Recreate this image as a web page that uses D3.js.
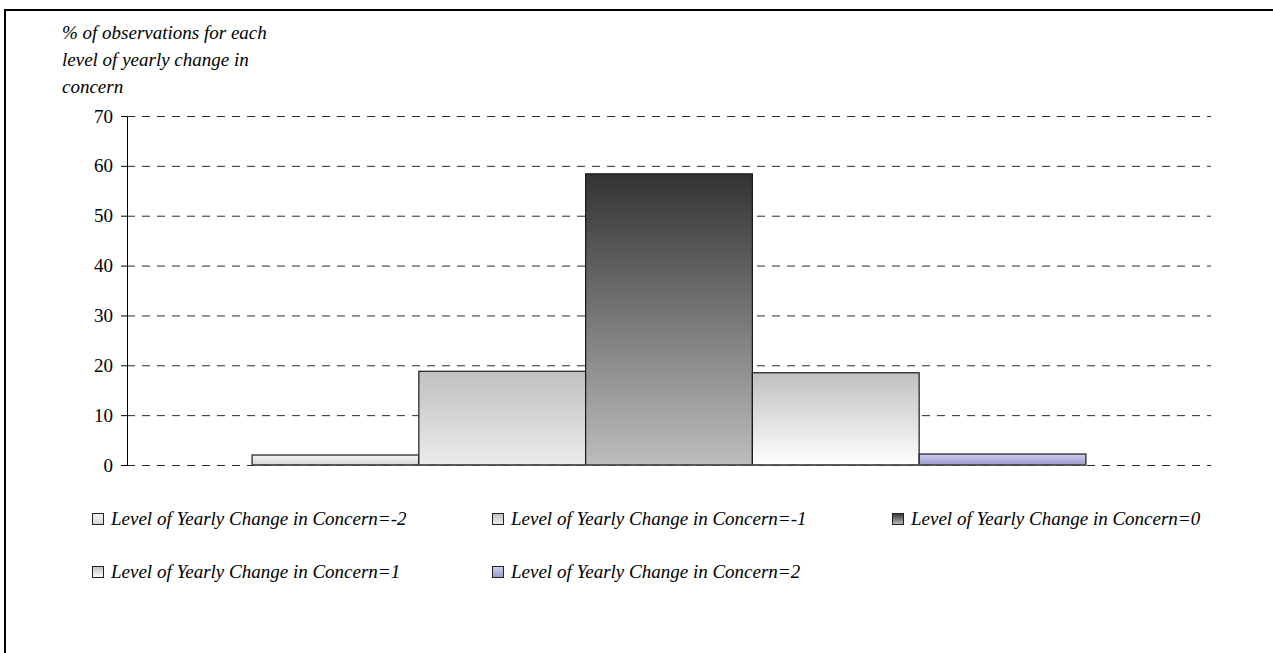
<html>
<head>
  <script src="https://d3js.org/d3.v7.min.js"></script>
  <style>
    body { margin: 0; background: #fff; }
    text { font-family: "Liberation Serif", "Times New Roman", serif; }
    .gridlines line { stroke: #2a2a2a; stroke-dasharray: 8, 7; }
    .gridlines .domain { stroke: none; }
  </style>
</head>
<body>
  <svg id="chart" width="1273" height="653"></svg>
  <script>
    // values
    const levels = ["-2", "-1", "0", "1", "2"];
    const percentages = [2.0, 18.8, 58.4, 18.5, 2.2];
    const yTicks = [0, 10, 20, 30, 40, 50, 60, 70];
    const titleLines = ["% of observations for each", "level of yearly change in", "concern"];
    const legendPrefix = "Level of Yearly Change in Concern=";

    // top / bottom colours of each bar's vertical gradient
    const gradTops = ["#f4f4f4", "#c0c0c0", "#333333", "#c0c0c0", "#cfcff2"];
    const gradBottoms = ["#d6d6d6", "#ebebeb", "#bdbdbd", "#ffffff", "#9a9acb"];

    let svg = d3.select("svg#chart");

    // outer frame, cut by the window on the right and bottom
    svg.append("rect")
      .attr("x", 5).attr("y", 10)
      .attr("width", 1400).attr("height", 800)
      .attr("fill", "none")
      .attr("stroke", "#000")
      .attr("stroke-width", 2);

    let defs = svg.append("defs");
    levels.forEach((d, i) => {
      let g = defs.append("linearGradient")
        .attr("id", "grad" + i)
        .attr("x1", 0).attr("y1", 0).attr("x2", 0).attr("y2", 1);
      g.append("stop").attr("offset", "0%").attr("stop-color", gradTops[i]);
      g.append("stop").attr("offset", "100%").attr("stop-color", gradBottoms[i]);
    });

    let plotLeft = 127, plotRight = 1211, plotTop = 116, plotBottom = 465;

    const yScale = d3.scaleLinear().domain([0, 70]).range([plotBottom, plotTop]);
    const xScale = d3.scaleBand().domain(levels).range([plotLeft, plotRight])
      .paddingInner(0).paddingOuter(0.75);

    // dashed gridlines
    let grid = d3.axisLeft(yScale).tickValues(yTicks)
      .tickSize(-(plotRight - plotLeft)).tickFormat("");
    svg.append("g")
      .attr("class", "gridlines")
      .attr("transform", `translate(${plotLeft},0)`)
      .call(grid);

    // bars
    svg.selectAll("rect.bar").data(levels)
      .join("rect")
      .attr("class", "bar")
      .attr("x", d => xScale(d))
      .attr("y", (d, i) => yScale(percentages[i]))
      .attr("width", xScale.bandwidth())
      .attr("height", (d, i) => plotBottom - yScale(percentages[i]))
      .attr("fill", (d, i) => `url(#grad${i})`)
      .attr("stroke", "#1a1a1a")
      .attr("stroke-width", 1.2);

    // baseline under the bars
    svg.append("line")
      .attr("x1", xScale(levels[0]))
      .attr("x2", xScale(levels[levels.length - 1]) + xScale.bandwidth())
      .attr("y1", plotBottom).attr("y2", plotBottom)
      .attr("stroke", "#555").attr("stroke-width", 1.5);

    // y axis
    let yAxis = d3.axisLeft(yScale).tickValues(yTicks)
      .tickSizeInner(6).tickSizeOuter(0).tickPadding(8)
      .tickFormat(d3.format("d"));
    let ax = svg.append("g")
      .attr("transform", `translate(${plotLeft},0)`)
      .call(yAxis);
    ax.select(".domain").attr("stroke", "#000");
    ax.selectAll(".tick line").attr("stroke", "#000");
    ax.selectAll(".tick text")
      .style("font-family", "'Liberation Serif', serif")
      .style("font-size", "19px")
      .attr("fill", "#000");

    // axis title (three italic lines)
    titleLines.forEach((t, i) => {
      svg.append("text")
        .attr("x", 62)
        .attr("y", 39 + 27 * i)
        .style("font-size", "19px")
        .style("font-style", "italic")
        .text(t);
    });

    // legend
    levels.forEach((d, i) => {
      let col = i % 3, row = Math.floor(i / 3);
      let lx = 92 + 400 * col, ly = 525 + 53 * row;
      svg.append("rect")
        .attr("x", lx + 0.5).attr("y", ly - 11.5)
        .attr("width", 11).attr("height", 11)
        .attr("fill", `url(#grad${i})`)
        .attr("stroke", "#222")
        .attr("stroke-width", 1);
      svg.append("text")
        .attr("x", lx + 19)
        .attr("y", ly)
        .style("font-size", "19px")
        .style("font-style", "italic")
        .text(legendPrefix + d);
    });
  </script>
</body>
</html>
